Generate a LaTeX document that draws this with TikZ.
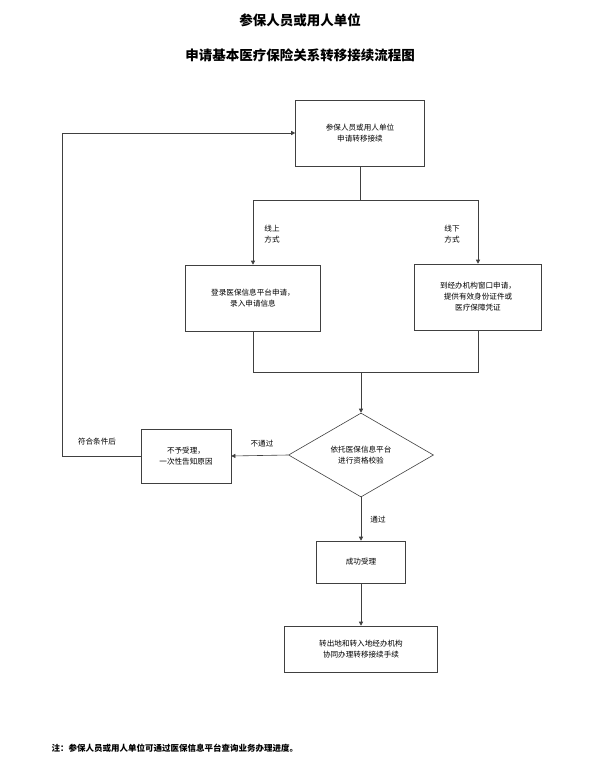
\documentclass[tikz,border=0pt]{standalone}
\usepackage{fontspec}
\setmainfont{Noto Sans CJK SC}
\usetikzlibrary{shapes.geometric,arrows.meta}

\begin{document}
\begin{tikzpicture}[x=1pt,y=-1pt,>={Triangle[length=4pt,width=4pt]},line width=0.6pt,draw=black!75]
\tikzstyle{stepbox}=[rectangle,draw=black!75,align=center,font=\fontsize{7.6}{11}\selectfont,inner sep=2pt]
\tikzstyle{check}=[diamond,draw=black!75,aspect=1.7,align=center,font=\fontsize{7.6}{11}\selectfont,inner sep=1pt]
\tikzstyle{lbl}=[align=center,font=\fontsize{7.6}{11}\selectfont]
\useasboundingbox[fill=white] (0,0) rectangle (600,778);
\node[font=\fontsize{13.5}{15}\selectfont\bfseries] (title1) at (300,20) {参保人员或用人单位};
\node[font=\fontsize{13.5}{15}\selectfont\bfseries] (title2) at (300,55) {申请基本医疗保险关系转移接续流程图};

\node[stepbox,minimum width=129pt,minimum height=66pt] (apply) at (360,133) {参保人员或用人单位\\申请转移接续};
\node[stepbox,minimum width=135pt,minimum height=66pt] (online) at (253,298) {登录医保信息平台申请，\\录入申请信息};
\node[stepbox,minimum width=127pt,minimum height=66pt] (offline) at (478,297) {到经办机构窗口申请，\\提供有效身份证件或\\医疗保障凭证};
\node[check,minimum width=145pt,minimum height=84pt] (verify) at (361,455) {依托医保信息平台\\进行资格校验};
\node[stepbox,minimum width=90pt,minimum height=54pt] (reject) at (186,456) {不予受理，\\一次性告知原因};
\node[stepbox,minimum width=89pt,minimum height=42pt] (accept) at (361,562) {成功受理};
\node[stepbox,minimum width=153pt,minimum height=46pt] (transfer) at (361,649) {转出地和转入地经办机构\\协同办理转移接续手续};

\coordinate (split) at (360,200);
\coordinate (merge) at (361,372);
\coordinate (loop) at (62,456);

\draw (apply) -- (split);
\draw[->] (split) -| (online.north);
\draw[->] (split) -| (offline.north);
\draw (online.south) |- (merge);
\draw (offline.south) |- (merge);
\draw[->] (merge) -- (verify.north);
\draw[->] (verify.west) -- (reject.east);
\draw (reject.west) -- (loop);
\draw[->] (loop) |- (apply.west);
\draw[->] (verify.south) -- (accept.north);
\draw[->] (accept.south) -- (transfer.north);

\node[lbl] (online lbl) at (272,234) {线上\\方式};
\node[lbl] (offline lbl) at (452,234) {线下\\方式};
\node[lbl] (fail lbl) at (262,444) {不通过};
\node[lbl] (redo lbl) at (97,442) {符合条件后};
\node[lbl] (pass lbl) at (378,520) {通过};

\node[anchor=west,font=\fontsize{8.5}{10}\selectfont\bfseries] (note) at (48,748) {注：参保人员或用人单位可通过医保信息平台查询业务办理进度。};
\end{tikzpicture}
\end{document}
